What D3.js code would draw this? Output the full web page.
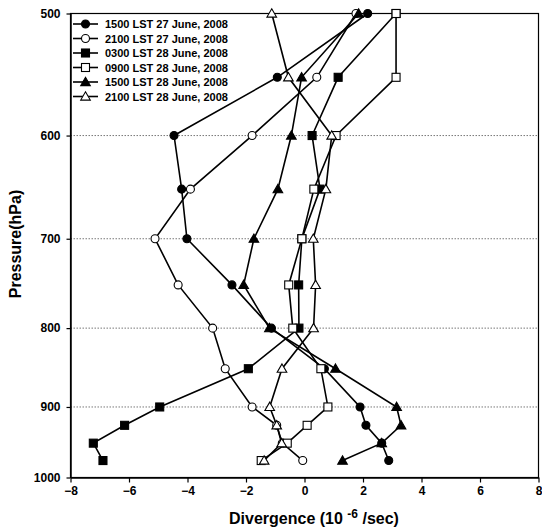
<!DOCTYPE html>
<html>
<head>
<meta charset="utf-8">
<script src="https://cdn.jsdelivr.net/npm/d3@7"></script>
<style>
  body { margin: 0; background: #fff; }
  svg { display: block; font-family: "Liberation Sans", Arial, sans-serif; }
</style>
</head>
<body>
<svg id="chart" width="542" height="532"></svg>
<script>
// pressure levels (hPa) and divergence values (10^-6 /sec)
const levels = [500, 550, 600, 650, 700, 750, 800, 850, 900, 925, 950, 975];

const s1500_27 = [2.16, -0.93, -4.46, -4.2, -4.02, -2.48, -1.13, 0.68, 1.9, 2.1, 2.64, 2.88];
const s2100_27 = [1.76, 0.42, -1.79, -3.9, -5.11, -4.32, -3.14, -2.71, -1.79, -0.95, -0.76, -0.06];
const s0300_28 = [3.13, 1.15, 0.26, 0.53, -0.09, -0.2, -0.19, -1.92, -4.95, -6.15, -7.22, -6.89];
const s0900_28 = [3.13, 3.13, 1.08, 0.32, -0.09, -0.54, -0.4, 0.56, 0.8, 0.09, -0.59, -1.48];
const s1500_28 = [1.85, -0.1, -0.45, -0.91, -1.73, -2.08, -1.2, 1.06, 3.15, 3.3, 2.64, 1.3];
const s2100_28 = [-1.12, -0.55, 0.93, 0.73, 0.3, 0.38, 0.31, -0.77, -1.19, -0.95, -0.78, -1.38];

const seriesNames = [
    '1500 LST 27 June, 2008',
    '2100 LST 27 June, 2008',
    '0300 LST 28 June, 2008',
    '0900 LST 28 June, 2008',
    '1500 LST 28 June, 2008',
    '2100 LST 28 June, 2008'
];
const seriesValues = [s1500_27, s2100_27, s0300_28, s0900_28, s1500_28, s2100_28];
// marker shape and fill for each series
const markerShapes = ['circle', 'circle', 'square', 'square', 'triangle', 'triangle'];
const markerFilled = [true, false, true, false, true, false];

const xTicks = [-8, -6, -4, -2, 0, 2, 4, 6, 8];
const yTicks = [500, 600, 700, 800, 900, 1000];

const svg = d3.select('#chart');
const plotLeft = 70.5, plotRight = 538.5, plotTop = 13.5, plotBottom = 477.5;

const x = d3.scaleLinear().domain([-8, 8]).range([plotLeft, plotRight]);
const y = d3.scaleLog().domain([500, 1000]).range([plotTop, plotBottom]);

// dotted grid lines
svg.append('g')
    .selectAll('line')
    .data([600, 700, 800, 900])
    .enter().append('line')
    .attr('x1', plotLeft).attr('x2', plotRight)
    .attr('y1', d => y(d)).attr('y2', d => y(d))
    .style('stroke', '#555')
    .style('stroke-width', 0.8)
    .style('stroke-dasharray', '1.5,1.5');

// frame
svg.append('rect')
    .attr('x', plotLeft).attr('y', plotTop)
    .attr('width', plotRight - plotLeft).attr('height', plotBottom - plotTop)
    .style('fill', 'none')
    .style('stroke', '#000')
    .style('stroke-width', 1.2);

// axes
const xAxis = svg.append('g')
    .attr('transform', `translate(0,${plotBottom})`)
    .call(d3.axisBottom(x).tickValues(xTicks).tickSize(5).tickPadding(4).tickSizeOuter(0));
const yAxis = svg.append('g')
    .attr('transform', `translate(${plotLeft},0)`)
    .call(d3.axisLeft(y).tickValues(yTicks).tickFormat(d3.format('d')).tickSize(4).tickPadding(6).tickSizeOuter(0));

[xAxis, yAxis].forEach(ax => {
    ax.select('.domain').style('stroke', '#000').style('stroke-width', 1.5);
    ax.selectAll('.tick line').style('stroke', '#000').style('stroke-width', 1.2);
    ax.selectAll('.tick text')
        .style('font-family', '"Liberation Sans", Arial, sans-serif')
        .style('font-size', '12px')
        .style('font-weight', 'bold')
        .style('fill', '#000');
});

// axis titles
svg.append('text')
    .attr('transform', 'translate(21,244) rotate(-90)')
    .attr('text-anchor', 'middle')
    .style('font-size', '16px')
    .style('font-weight', 'bold')
    .text('Pressure(hPa)');

const xTitle = svg.append('text')
    .attr('x', 314).attr('y', 524)
    .attr('text-anchor', 'middle')
    .style('font-size', '16px')
    .style('font-weight', 'bold');
xTitle.append('tspan').text('Divergence (10 ');
xTitle.append('tspan').attr('dy', -6).style('font-size', '12px').text('-6');
xTitle.append('tspan').attr('dy', 6).text(' /sec)');

// marker drawing helper
function drawMarker(g, shape, filled, cx, cy) {
    let m;
    if (shape === 'circle') {
        m = g.append('circle').attr('cx', cx).attr('cy', cy).attr('r', 4);
    } else if (shape === 'square') {
        m = g.append('rect').attr('x', cx - 4).attr('y', cy - 4).attr('width', 8).attr('height', 8);
    } else {
        m = g.append('path')
            .attr('d', d3.symbol().type(d3.symbolTriangle).size(40)())
            .attr('transform', `translate(${cx},${cy + 0.8})`);
    }
    m.style('fill', filled ? '#000' : '#fff')
        .style('stroke', '#000')
        .style('stroke-width', 1.1);
}

const lineFunction = d3.line()
    .x(d => x(d.v))
    .y(d => y(d.p));

seriesValues.forEach((vals, i) => {
    const points = vals.map((v, j) => ({ v: v, p: levels[j] }));
    const g = svg.append('g');
    g.append('path')
        .attr('d', lineFunction(points))
        .style('fill', 'none')
        .style('stroke', '#000')
        .style('stroke-width', 1.6);
    points.forEach(pt => drawMarker(g, markerShapes[i], markerFilled[i], x(pt.v), y(pt.p)));
});

// legend
const legend = svg.append('g');
seriesNames.forEach((name, i) => {
    const ly = 24 + i * 14.5;
    legend.append('line')
        .attr('x1', 73).attr('x2', 98)
        .attr('y1', ly).attr('y2', ly)
        .style('stroke', '#000')
        .style('stroke-width', 1.6);
    drawMarker(legend, markerShapes[i], markerFilled[i], 85.5, ly);
    legend.append('text')
        .attr('x', 105).attr('y', ly + 4)
        .style('font-size', '11px')
        .style('font-weight', 'bold')
        .text(name);
});
</script>
</body>
</html>
